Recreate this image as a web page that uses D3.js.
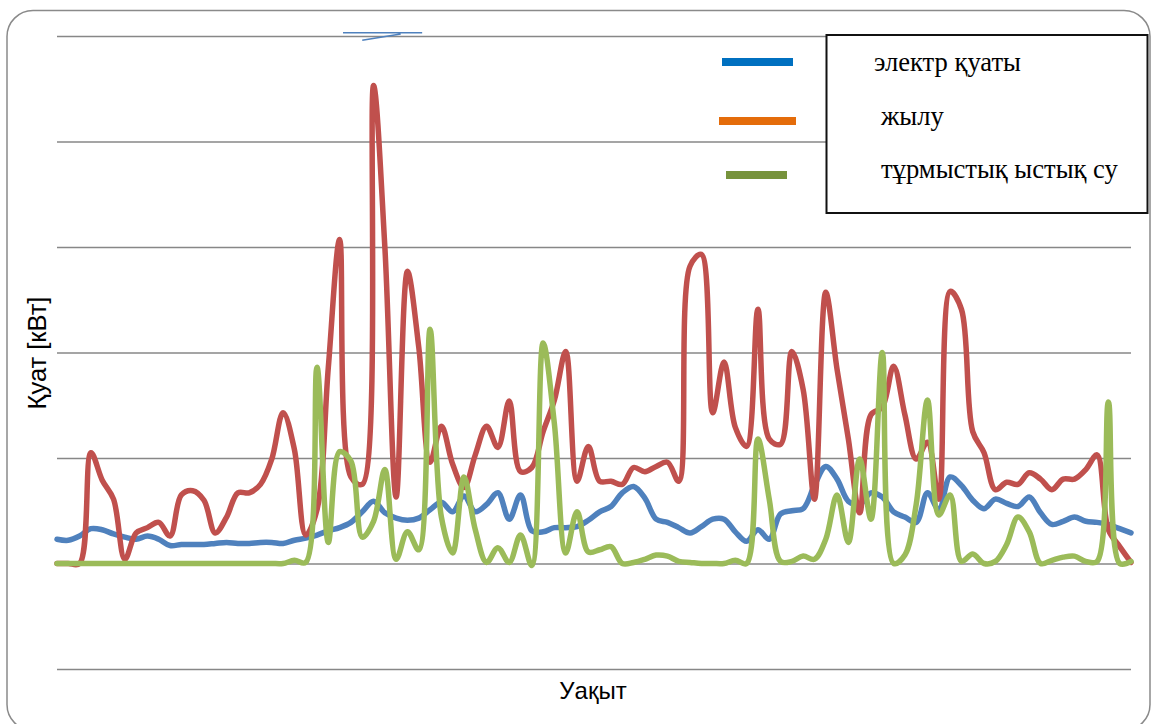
<!DOCTYPE html>
<html>
<head>
<meta charset="utf-8">
<script src="https://cdn.jsdelivr.net/npm/d3@7"></script>
<style>
  html, body { margin: 0; padding: 0; background: #ffffff; }
  svg { display: block; }
</style>
</head>
<body>
<svg id="chart" width="1155" height="724"></svg>
<script>
// ---- data -------------------------------------------------------------
const seriesNames = ["электр қуаты", "жылу", "тұрмыстық ыстық су"];

// electrical power
const electric = [
  0.23, 0.22, 0.26, 0.33, 0.32, 0.28, 0.25, 0.23, 0.26, 0.23,
  0.17, 0.18, 0.18, 0.18, 0.19, 0.20, 0.19, 0.19, 0.20, 0.20,
  0.19, 0.22, 0.24, 0.27, 0.31, 0.34, 0.39, 0.49, 0.59, 0.48,
  0.43, 0.41, 0.43, 0.51, 0.58, 0.49, 0.64, 0.49, 0.56, 0.67,
  0.42, 0.65, 0.31, 0.30, 0.34, 0.34, 0.35, 0.41, 0.49, 0.54,
  0.67, 0.73, 0.62, 0.42, 0.39, 0.34, 0.29, 0.35, 0.42, 0.42,
  0.30, 0.21, 0.32, 0.23, 0.47, 0.50, 0.52, 0.74, 0.92, 0.80,
  0.59, 0.56, 0.67, 0.63, 0.49, 0.44, 0.39, 0.67, 0.51, 0.82,
  0.74, 0.60, 0.52, 0.61, 0.57, 0.54, 0.63, 0.48, 0.37, 0.40,
  0.44, 0.40, 0.39, 0.37, 0.33, 0.29
];

// heat
const heat = [
  0.00, 0.00, 0.00, 1.05, 0.79, 0.61, 0.04, 0.29, 0.34, 0.39,
  0.26, 0.65, 0.69, 0.60, 0.29, 0.44, 0.67, 0.67, 0.75, 0.99,
  1.43, 1.08, 0.27, 0.51, 1.86, 3.07, 0.82, 0.75, 4.53, 3.00,
  0.63, 2.77, 2.05, 0.96, 1.30, 0.94, 0.72, 1.03, 1.30, 1.10,
  1.54, 0.87, 0.91, 1.25, 1.55, 2.01, 0.78, 1.11, 0.78, 0.78,
  0.75, 0.91, 0.87, 0.92, 0.96, 0.78, 2.82, 2.93, 1.43, 1.91,
  1.29, 1.11, 2.41, 1.18, 1.13, 2.01, 1.65, 0.61, 2.57, 1.84,
  1.18, 0.48, 1.41, 1.48, 1.87, 1.41, 0.99, 1.15, 0.61, 2.58,
  2.41, 1.25, 1.05, 0.70, 0.77, 0.75, 0.86, 0.80, 0.70, 0.80,
  0.80, 0.89, 1.03, 0.32, 0.16, 0.01
];

// domestic hot water
const hotWater = [
  0.00, 0.00, 0.00, 0.00, 0.00, 0.00, 0.00, 0.00, 0.00, 0.00,
  0.00, 0.00, 0.00, 0.00, 0.00, 0.00, 0.00, 0.00, 0.00, 0.00,
  0.00, 0.03, 0.01, 1.86, 0.20, 1.06, 0.97, 0.25, 0.40, 0.89,
  0.04, 0.30, 0.13, 2.22, 0.44, 0.10, 0.82, 0.32, 0.01, 0.15,
  0.01, 0.27, -0.02, 2.09, 1.32, 0.10, 0.49, 0.11, 0.13, 0.16,
  0.00, 0.01, 0.04, 0.08, 0.07, 0.02, 0.01, 0.00, 0.00, 0.00,
  0.03, 0.00, 1.18, 0.61, 0.02, 0.02, 0.07, 0.04, 0.23, 0.65,
  0.20, 0.99, 0.42, 2.00, 0.00, 0.08, 0.56, 1.55, 0.46, 0.65,
  0.02, 0.09, 0.00, 0.02, 0.18, 0.44, 0.30, 0.00, 0.03, 0.06,
  0.07, 0.02, 0.02, 1.53, 0.00, 0.02
];

const gridValues = [-1, 0, 1, 2, 3, 4, 5];
const xTitle = "Уақыт";
const yTitle = "Қуат [кВт]";

const lineColors = ["#4F81BD", "#C0504D", "#9BBB59"];
const legendColors = ["#0070C0", "#E46C0A", "#77933C"];

// ---- layout -----------------------------------------------------------
const svg = d3.select("#chart");
const plot = { left: 57, right: 1131, top: 36, bottom: 669 };

const x = d3.scaleLinear()
  .domain([0, electric.length - 1])
  .range([plot.left, plot.right]);

const y = d3.scaleLinear()
  .domain([d3.min(gridValues), d3.max(gridValues)])
  .range([plot.bottom, plot.top]);

// outer chart-area frame with rounded corners
svg.append("rect")
  .attr("x", 7).attr("y", 10.5)
  .attr("width", 1143).attr("height", 720)
  .attr("rx", 26).attr("ry", 26)
  .attr("fill", "#ffffff")
  .attr("stroke", "#8a8a8a")
  .attr("stroke-width", 1.5);

// horizontal gridlines (no tick labels)
const yAxis = d3.axisLeft(y)
  .tickValues(gridValues)
  .tickSize(-(plot.right - plot.left))
  .tickFormat("");

svg.append("g")
  .attr("transform", `translate(${plot.left},0)`)
  .call(yAxis)
  .call(g => g.select(".domain").remove())
  .call(g => g.selectAll(".tick line")
    .attr("stroke", "#878787")
    .attr("stroke-width", 1.6));

// small stray stroke above the plot
svg.append("path")
  .attr("d", `M${x(25.3)},${y(5.03)} H${x(32.3)} M${x(27.0)},${y(4.96)} L${x(30.4)},${y(5.02)}`)
  .attr("fill", "none")
  .attr("stroke", "#4F81BD")
  .attr("stroke-width", 1.5);

// ---- series lines -----------------------------------------------------
const line = d3.line()
  .x((d, i) => x(i))
  .y(d => y(d))
  .curve(d3.curveCatmullRom.alpha(0.5));

[electric, heat, hotWater].forEach((values, k) => {
  svg.append("path")
    .datum(values)
    .attr("d", line)
    .attr("fill", "none")
    .attr("stroke", lineColors[k])
    .attr("stroke-width", 5.5)
    .attr("stroke-linejoin", "round")
    .attr("stroke-linecap", "round");
});

// ---- axis titles ------------------------------------------------------
svg.append("text")
  .attr("x", 593)
  .attr("y", 699)
  .attr("text-anchor", "middle")
  .attr("font-family", "Liberation Sans, Arial, sans-serif")
  .attr("font-size", 24)
  .attr("fill", "#000")
  .text(xTitle);

svg.append("text")
  .attr("transform", `translate(46,353) rotate(-90)`)
  .attr("text-anchor", "middle")
  .attr("font-family", "Liberation Sans, Arial, sans-serif")
  .attr("font-size", 25.5)
  .attr("fill", "#000")
  .text(yTitle);

// ---- legend -----------------------------------------------------------
const swatches = [
  { x1: 722, x2: 793, y: 62 },
  { x1: 719, x2: 796, y: 121 },
  { x1: 726, x2: 787, y: 175 }
];
const labelPos = [
  { x: 874, y: 71 },
  { x: 881, y: 125 },
  { x: 881, y: 178 }
];

svg.append("g").selectAll("line")
  .data(seriesNames)
  .join("line")
  .attr("x1", (d, i) => swatches[i].x1)
  .attr("x2", (d, i) => swatches[i].x2)
  .attr("y1", (d, i) => swatches[i].y)
  .attr("y2", (d, i) => swatches[i].y)
  .attr("stroke", (d, i) => legendColors[i])
  .attr("stroke-width", 8);

svg.append("rect")
  .attr("x", 826.5).attr("y", 35)
  .attr("width", 321).attr("height", 178)
  .attr("fill", "#ffffff")
  .attr("stroke", "#111")
  .attr("stroke-width", 2);

svg.append("g").selectAll("text")
  .data(seriesNames)
  .join("text")
  .attr("x", (d, i) => labelPos[i].x)
  .attr("y", (d, i) => labelPos[i].y)
  .attr("font-family", "Liberation Serif, Times New Roman, serif")
  .attr("font-size", 26.6)
  .attr("fill", "#000")
  .text(d => d);
</script>
</body>
</html>
